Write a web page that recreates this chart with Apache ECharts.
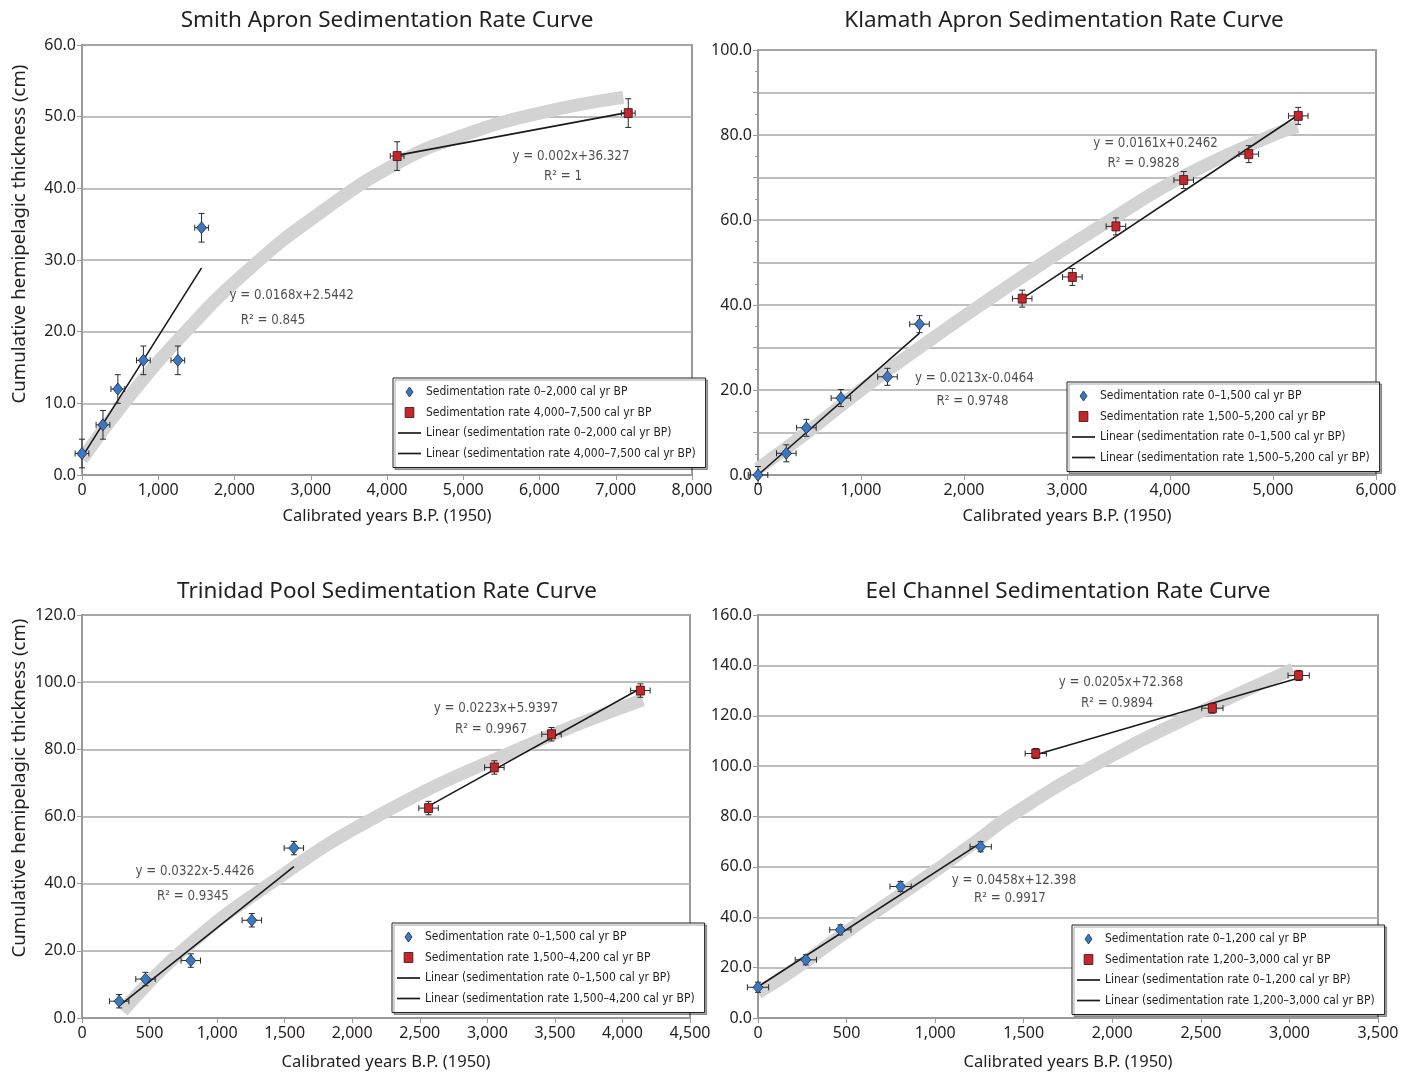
<!DOCTYPE html>
<html><head><meta charset="utf-8">
<script src="https://cdn.jsdelivr.net/npm/echarts@6/dist/echarts.min.js"></script>
<style>html,body{margin:0;padding:0;background:#fff}#c{width:1404px;height:1076px}</style>
</head><body><div id="c"></div><script>
// ---------------- DATA ----------------
// Smith Apron
const smithBlueX = [0, 275, 470, 805, 1257, 1568];
const smithBlueY = [3.0, 7.0, 12.0, 16.0, 16.0, 34.5];
const smithRedX = [4133, 7164];
const smithRedY = [44.5, 50.5];
const smithBlueTrend = [[0, 2.5], [1568, 28.9]];
const smithRedTrend = [[4133, 44.6], [7164, 50.6]];
const smithBand = [[0, 2.2], [540, 9.9], [1350, 19.9], [2200, 28.8], [3100, 36.4], [4133, 43.5], [5000, 47.4], [6000, 50.5], [7100, 52.7]];
const smithErr = [90, 2];
const smithLegend = ['Sedimentation rate 0\u20132,000 cal yr BP', 'Sedimentation rate 4,000\u20137,500 cal yr BP',
  'Linear (sedimentation rate 0\u20132,000 cal yr BP)', 'Linear (sedimentation rate 4,000\u20137,500 cal yr BP)'];
const smithNotes = [['y = 0.0168x+2.5442', 2750, 25.0], ['R\u00b2 = 0.845', 2505, 21.6],
  ['y = 0.002x+36.327', 6413, 44.4], ['R\u00b2 = 1', 6308, 41.7]];

// Klamath Apron
const klamBlueX = [0, 275, 470, 805, 1257, 1568];
const klamBlueY = [0.0, 5.1, 11.1, 18.1, 23.1, 35.5];
const klamRedX = [2565, 3052, 3475, 4133, 4765, 5245];
const klamRedY = [41.5, 46.6, 58.5, 69.4, 75.5, 84.5];
const klamBlueTrend = [[0, 0.0], [1568, 33.4]];
const klamRedTrend = [[2565, 41.5], [5245, 84.7]];
const klamBand = [[0, 1.5], [476, 10], [1000, 20], [1570, 30], [2160, 40], [2775, 50], [3420, 60], [4108, 70], [5000, 80], [5240, 82.0]];
const klamErr = [95, 2];
const klamLegend = ['Sedimentation rate 0\u20131,500 cal yr BP', 'Sedimentation rate 1,500\u20135,200 cal yr BP',
  'Linear (sedimentation rate 0\u20131,500 cal yr BP)', 'Linear (sedimentation rate 1,500\u20135,200 cal yr BP)'];
const klamNotes = [['y = 0.0161x+0.2462', 3860, 78.1], ['R\u00b2 = 0.9828', 3743, 73.2],
  ['y = 0.0213x-0.0464', 2101, 22.6], ['R\u00b2 = 0.9748', 2082, 17.2]];

// Trinidad Pool
const trinBlueX = [275, 470, 805, 1257, 1568];
const trinBlueY = [5.0, 11.6, 17.1, 29.1, 50.6];
const trinRedX = [2565, 3052, 3475, 4133];
const trinRedY = [62.5, 74.6, 84.5, 97.5];
const trinBlueTrend = [[275, 3.6], [1568, 45.1]];
const trinRedTrend = [[2565, 63.1], [4133, 98.1]];
const trinBand = [[300, 2], [741, 20], [1392, 40], [2181, 60], [3227, 80], [4150, 94.7]];
const trinErr = [72, 2];
const trinLegend = ['Sedimentation rate 0\u20131,500 cal yr BP', 'Sedimentation rate 1,500\u20134,200 cal yr BP',
  'Linear (sedimentation rate 0\u20131,500 cal yr BP)', 'Linear (sedimentation rate 1,500\u20134,200 cal yr BP)'];
const trinNotes = [['y = 0.0322x-5.4426', 836, 43.5], ['R\u00b2 = 0.9345', 821, 36.3],
  ['y = 0.0223x+5.9397', 3064, 92.0], ['R\u00b2 = 0.9967', 3027, 85.8]];

// Eel Channel
const eelBlueX = [0, 270, 465, 805, 1257];
const eelBlueY = [12.2, 23.1, 35.0, 52.2, 68.0];
const eelRedX = [1568, 2565, 3052];
const eelRedY = [105.0, 123.0, 136.0];
const eelBlueTrend = [[0, 12.4], [1257, 69.5]];
const eelRedTrend = [[1568, 104.5], [3052, 135.0]];
const eelBand = [[0, 10], [240, 21], [465, 32.5], [805, 49], [1032, 60], [1257, 71.5], [1420, 80], [1890, 100], [2450, 120], [3020, 138.5]];
const eelErr = [60, 2];
const eelLegend = ['Sedimentation rate 0\u20131,200 cal yr BP', 'Sedimentation rate 1,200\u20133,000 cal yr BP',
  'Linear (sedimentation rate 0\u20131,200 cal yr BP)', 'Linear (sedimentation rate 1,200\u20133,000 cal yr BP)'];
const eelNotes = [['y = 0.0205x+72.368', 2049, 133.0], ['R\u00b2 = 0.9894', 2027, 124.7],
  ['y = 0.0458x+12.398', 1445, 54.4], ['R\u00b2 = 0.9917', 1422, 47.6]];

const titles = ['Smith Apron Sedimentation Rate Curve', 'Klamath Apron Sedimentation Rate Curve',
  'Trinidad Pool Sedimentation Rate Curve', 'Eel Channel Sedimentation Rate Curve'];
const xName = 'Calibrated years B.P. (1950)';
const yName = 'Cumulative hemipelagic thickness (cm)';
const xMax = [8000, 6000, 4500, 3500];
const xStep = [1000, 1000, 500, 500];
const yMax = [60, 100, 120, 160];
const yStep = [10, 10, 20, 20];
const yLabelStep = [10, 20, 20, 20];

// ---------------- STYLE / LAYOUT ----------------
const FONT = '"Noto Sans", "Open Sans", sans-serif';
const NARROW = '"Liberation Sans Narrow", "DejaVu Sans Condensed", sans-serif';
const INK = '#231f20';
const AXIS = '#9a9a9a';
const grids = [
  {left: 82, top: 45, width: 610, height: 430},
  {left: 758, top: 50, width: 618, height: 425},
  {left: 82, top: 615, width: 608, height: 403},
  {left: 758, top: 615, width: 620, height: 403}
];
const legendPos = [[393, 378], [1067, 382], [392, 923], [1072, 925]];
const titlePos = [[387, 21], [1064, 21], [387, 592], [1068, 592]];
const xNameGap = [33, 33, 36, 36];

const panels = [
  {bx: smithBlueX, by: smithBlueY, rx: smithRedX, ry: smithRedY, bt: smithBlueTrend, rt: smithRedTrend, band: smithBand, err: smithErr, leg: smithLegend, notes: smithNotes},
  {bx: klamBlueX, by: klamBlueY, rx: klamRedX, ry: klamRedY, bt: klamBlueTrend, rt: klamRedTrend, band: klamBand, err: klamErr, leg: klamLegend, notes: klamNotes},
  {bx: trinBlueX, by: trinBlueY, rx: trinRedX, ry: trinRedY, bt: trinBlueTrend, rt: trinRedTrend, band: trinBand, err: trinErr, leg: trinLegend, notes: trinNotes},
  {bx: eelBlueX, by: eelBlueY, rx: eelRedX, ry: eelRedY, bt: eelBlueTrend, rt: eelRedTrend, band: eelBand, err: eelErr, leg: eelLegend, notes: eelNotes}
];

const zip = (xs, ys) => xs.map((x, i) => [x, ys[i]]);
const fmtK = v => v.toLocaleString('en-US');

const BLUE = {color: '#3a78c2', borderColor: '#1b2a48', borderWidth: 0.8};
const RED = {color: '#c4262b', borderColor: '#3a1010', borderWidth: 0.8};
const ICON_DIAMOND = 'path://M3.5,0L7,5L3.5,10L0,5Z';
const ICON_SQUARE = 'path://M0,1H7V9H0Z';
const ICON_LINE = 'path://M0,0H23V1.7H0Z';

function errRender(ex, ey) {
  return function (params, api) {
    const x = api.value(0), y = api.value(1);
    const t = api.coord([x, y + ey]), b = api.coord([x, y - ey]);
    const l = api.coord([x - ex, y]), r = api.coord([x + ex, y]);
    const cap = 3;
    const st = {stroke: '#2a2a2a', lineWidth: 1};
    const ln = (x1, y1, x2, y2) => ({type: 'line', shape: {x1, y1, x2, y2}, style: st});
    return {type: 'group', children: [
      ln(t[0], t[1], b[0], b[1]),
      ln(t[0] - cap, t[1], t[0] + cap, t[1]),
      ln(b[0] - cap, b[1], b[0] + cap, b[1]),
      ln(l[0], l[1], r[0], r[1]),
      ln(l[0], l[1] - cap, l[0], l[1] + cap),
      ln(r[0], r[1] - cap, r[0], r[1] + cap)
    ]};
  };
}

const xAxes = [], yAxes = [], series = [], legends = [], graphics = [];
panels.forEach((p, i) => {
  xAxes.push({
    type: 'value', gridIndex: i, min: 0, max: xMax[i], interval: xStep[i],
    axisLine: {show: true, lineStyle: {color: AXIS, width: 2}},
    axisTick: {show: true, length: 5, lineStyle: {color: AXIS, width: 1}},
    axisLabel: {formatter: fmtK, fontSize: 16, color: INK, fontFamily: FONT, margin: 7},
    splitLine: {show: false},
    name: xName, nameLocation: 'middle', nameGap: xNameGap[i],
    nameTextStyle: {fontSize: 16.5, fontFamily: FONT, color: INK}
  });
  yAxes.push({
    type: 'value', gridIndex: i, min: 0, max: yMax[i], interval: yStep[i],
    axisLine: {show: true, lineStyle: {color: AXIS, width: 2}},
    axisTick: {show: true, length: 5, lineStyle: {color: AXIS, width: 1}},
    minorTick: {show: i === 1, splitNumber: 2, length: 3, lineStyle: {color: AXIS}},
    axisLabel: {formatter: v => (Math.round(v) % yLabelStep[i] === 0 ? v.toFixed(1) : ''), fontSize: 16, color: INK, fontFamily: FONT, margin: 6},
    splitLine: {show: true, lineStyle: {color: '#a9a9a9', width: 1.5}}
  });
  const ax = {xAxisIndex: i, yAxisIndex: i};
  series.push(Object.assign({
    type: 'line', name: 'band' + i, data: p.band, smooth: 0.5, symbol: 'none', silent: true, z: 1,
    lineStyle: {color: '#d3d3d3', width: 13, cap: 'butt', join: 'round'}
  }, ax));
  series.push(Object.assign({
    type: 'line', name: p.leg[2], data: p.bt, symbol: 'none', silent: true, z: 3,
    lineStyle: {color: '#1a1a1a', width: 1.6}, itemStyle: {color: '#1a1a1a'}
  }, ax));
  series.push(Object.assign({
    type: 'line', name: p.leg[3], data: p.rt, symbol: 'none', silent: true, z: 3,
    lineStyle: {color: '#1a1a1a', width: 1.6}, itemStyle: {color: '#1a1a1a'}
  }, ax));
  series.push(Object.assign({
    type: 'custom', name: 'errB' + i, data: zip(p.bx, p.by), renderItem: errRender(p.err[0], p.err[1]), silent: true, z: 4, clip: false
  }, ax));
  series.push(Object.assign({
    type: 'custom', name: 'errR' + i, data: zip(p.rx, p.ry), renderItem: errRender(p.err[0], p.err[1]), silent: true, z: 4, clip: false
  }, ax));
  series.push(Object.assign({
    type: 'scatter', name: p.leg[0], data: zip(p.bx, p.by), symbol: 'diamond', symbolSize: [10, 12], z: 5, silent: true,
    itemStyle: Object.assign({opacity: 1}, BLUE)
  }, ax));
  series.push(Object.assign({
    type: 'scatter', name: p.leg[1], data: zip(p.rx, p.ry), symbol: 'rect', symbolSize: [8, 9], z: 5, silent: true,
    itemStyle: Object.assign({opacity: 1}, RED)
  }, ax));
  series.push(Object.assign({
    type: 'scatter', name: 'notes' + i, symbol: 'circle', symbolSize: 1, z: 6, silent: true,
    itemStyle: {color: 'rgba(0,0,0,0)'},
    data: p.notes.map(n => ({name: n[0], value: [n[1], n[2]]})),
    label: {show: true, position: 'inside', formatter: '{b}', fontFamily: NARROW, fontSize: 13.2, color: INK}
  }, ax));
  legends.push({
    left: legendPos[i][0], top: legendPos[i][1], orient: 'vertical', selectedMode: false,
    itemWidth: 23, itemHeight: 10, itemGap: 6.5, padding: [7, 10, 7, 5], symbolKeepAspect: true,
    borderColor: INK, borderWidth: 1, backgroundColor: '#fff',
    shadowColor: 'rgba(0,0,0,0.35)', shadowOffsetX: 2, shadowOffsetY: 2, shadowBlur: 0,
    textStyle: {fontFamily: NARROW, fontSize: 12, lineHeight: 14, color: INK},
    data: [
      {name: p.leg[0], icon: ICON_DIAMOND, itemStyle: BLUE},
      {name: p.leg[1], icon: ICON_SQUARE, itemStyle: RED},
      {name: p.leg[2], icon: ICON_LINE, itemStyle: {color: '#1a1a1a', borderWidth: 0}},
      {name: p.leg[3], icon: ICON_LINE, itemStyle: {color: '#1a1a1a', borderWidth: 0}}
    ]
  });
  graphics.push({
    type: 'text', x: titlePos[i][0], y: titlePos[i][1], silent: true,
    style: {text: titles[i], font: '22.5px ' + FONT, fill: INK, align: 'center', verticalAlign: 'middle', textAlign: 'center', textVerticalAlign: 'middle'}
  });
});
// y-axis names (left column only)
[[20, 234], [20, 788]].forEach(pos => {
  graphics.push({
    type: 'text', x: pos[0], y: pos[1], rotation: Math.PI / 2, silent: true,
    style: {text: yName, font: '18.6px ' + FONT, fill: INK, align: 'center', verticalAlign: 'middle', textAlign: 'center', textVerticalAlign: 'middle'}
  });
});

const chart = echarts.init(document.getElementById('c'), null, {renderer: 'canvas'});
chart.setOption({
  animation: false,
  backgroundColor: '#fff',
  grid: grids.map(g => Object.assign({show: true, borderColor: AXIS, borderWidth: 2, backgroundColor: 'transparent', containLabel: false, outerBoundsMode: 'none'}, g)),
  xAxis: xAxes,
  yAxis: yAxes,
  legend: legends,
  series: series,
  graphic: graphics
});
</script></body></html>
